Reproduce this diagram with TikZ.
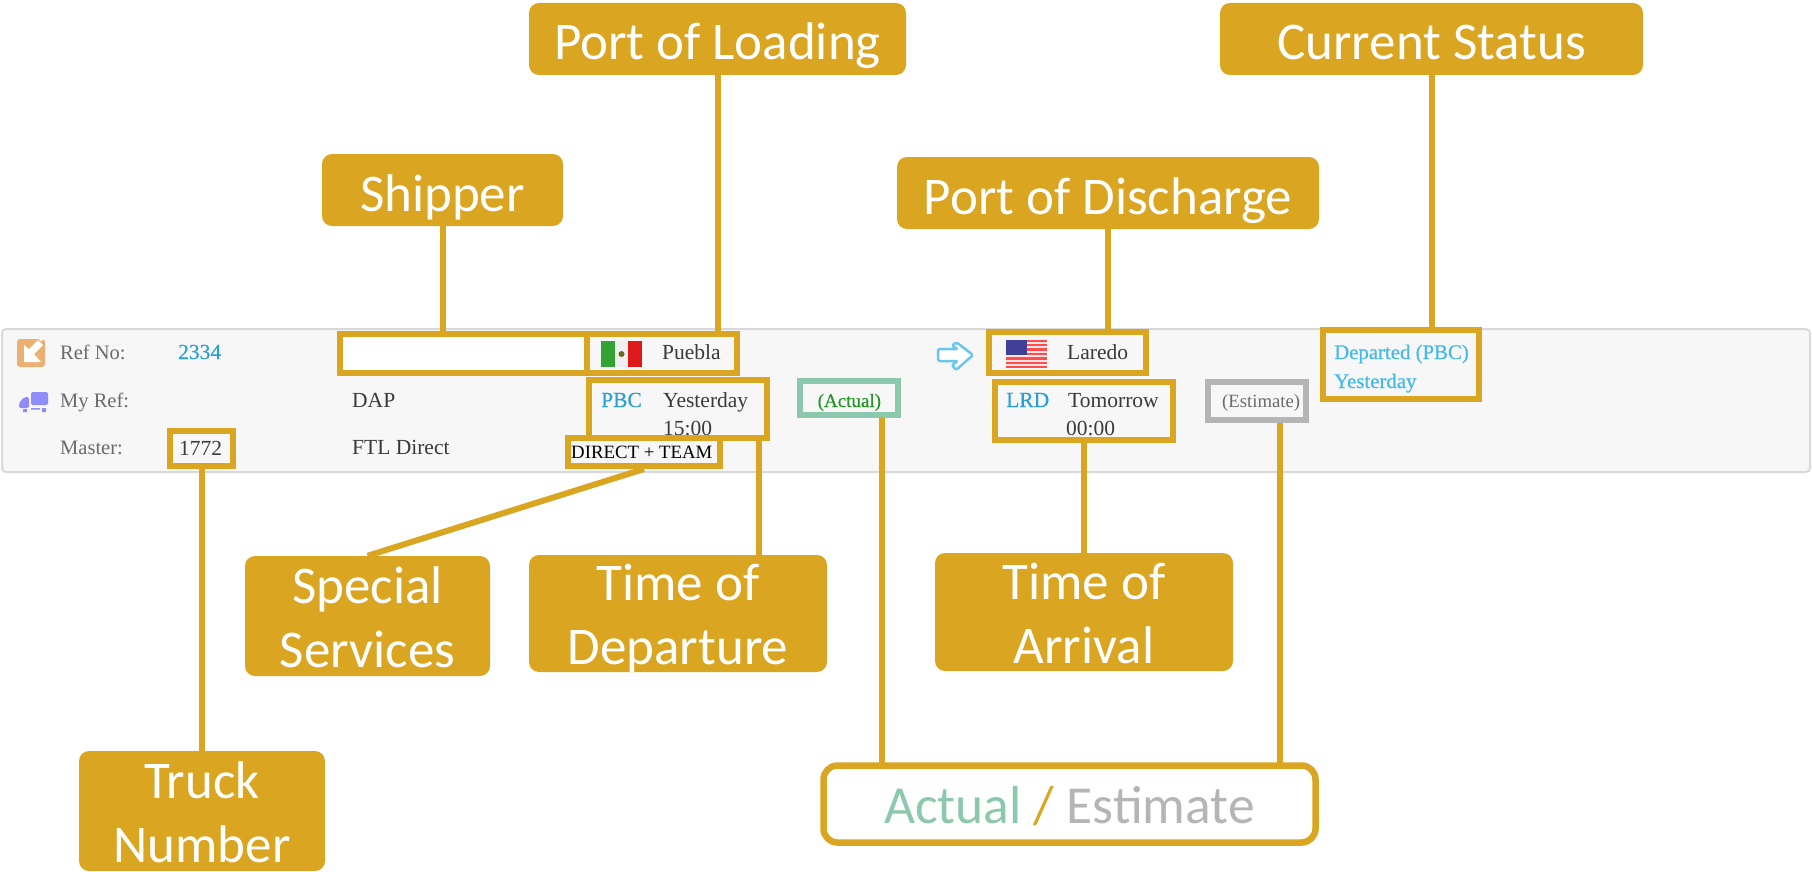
\documentclass[tikz,border=0pt]{standalone}
\usepackage{fontspec}
\setmainfont{Liberation Serif}
\newfontfamily\labelfont{Carlito}
\newfontfamily\heavyfont{Liberation Serif}[FakeBold=0.5]
\definecolor{tagGold}{HTML}{DAA520}
\definecolor{actualGreen}{HTML}{8CC8AE}
\definecolor{estGrey}{HTML}{B5B5B5}
\definecolor{linkBlue}{HTML}{2A9FD6}
\definecolor{statusBlue}{HTML}{45B8EA}
\definecolor{rowGrey}{HTML}{6A6A6A}
\definecolor{rowDark}{HTML}{3A3A3A}
\definecolor{iconOrange}{HTML}{EBB074}
\definecolor{iconPurple}{HTML}{8F8CFA}
\tikzset{
	tag/.style={fill=tagGold, text=white, rounded corners=10pt, align=center, inner sep=0pt, text height=42pt, text depth=0pt, font=\labelfont\fontsize{53}{64}\selectfont},
	tagtwo/.style={tag, text height=102pt},
	markbox/.style={draw=tagGold, line width=6pt, inner sep=0pt},
	leader/.style={draw=tagGold, line width=6pt},
	rowtext/.style={anchor=base west, inner sep=0pt, text=rowDark, font=\fontsize{21.5}{24}\selectfont},
	rowlabel/.style={rowtext, text=rowGrey, font=\fontsize{20.5}{24}\selectfont},
	bluetext/.style={rowtext, text=linkBlue, font=\heavyfont\fontsize{21.5}{24}\selectfont},
	statustext/.style={rowtext, text=statusBlue, font=\heavyfont\fontsize{20.8}{24}\selectfont}
}
\begin{document}
\begin{tikzpicture}[x=1pt, y=-1pt]
	\useasboundingbox (0,0) rectangle (1812,872);
%	    panel
	\draw[draw=black!15, fill=black!3, line width=2pt, rounded corners=4pt] (2,329) rectangle (1810,472);
	\fill[white] (340,334) rectangle (584,373);
%	    icons
	\fill[iconOrange, rounded corners=3pt] (17,339) rectangle (45,367);
	\fill[white] (45,338) -- (38,338) -- (41,341) -- cycle;
	\fill[white] (43,345) -- (38,340) -- (29,349) -- (24,345) -- (24,362) -- (41,362) -- (34,354) -- cycle;
	\fill[iconPurple, rounded corners=2pt] (31,392) rectangle (48,405);
	\fill[iconPurple, rounded corners=2pt] (19,408) -- (19,403) -- (24,397) -- (29,397) -- (29,408) -- cycle;
	\fill[iconPurple] (23,409) rectangle (27,412) (31,408) rectangle (40,409.5) (42,408) rectangle (46,412);
	\fill[green!55!black!80!white] (601,341) rectangle (615,367);
	\fill[black!6] (615,341) rectangle (628,367);
	\fill[red!85!black!90!white] (628,341) rectangle (642,367);
	\fill[olive!70!black] (621.5,354) circle (3pt);
	\draw[statusBlue!80!white, fill=white, line width=2.5pt, line join=round, rounded corners=2pt] (956,342) -- (973,355) -- (956,370) -- (952,365) -- (958,361) -- (938,361) -- (938,349) -- (958,349) -- (952,346) -- cycle;
	\fill[red!70!white] (1006,340) rectangle (1047,368);
	\foreach \i in {0,1,2,3,4,5} {
		\fill[white!90!red] (1006,342+\i*4.4) rectangle (1047,344+\i*4.4);
	}
	\fill[blue!45!black!75!white] (1006,340) rectangle (1027,355);
%	    row text
	\node[rowlabel] (refno) at (60,359) {Ref No:};
	\node[bluetext] (refval) at (178,359) {2334};
	\node[rowlabel] (myref) at (60,407) {My Ref:};
	\node[rowlabel] (master) at (60,454) {Master:};
	\node[rowtext] (masterval) at (179,455) {1772};
	\node[rowtext] (dap) at (352,407) {DAP};
	\node[rowtext] (ftl) at (352,454) {FTL Direct};
	\node[rowtext] (puebla) at (662,359) {Puebla};
	\node[bluetext] (pbc) at (601,407) {PBC};
	\node[rowtext] (depday) at (663,407) {Yesterday};
	\node[rowtext] (deptime) at (663,435) {15:00};
	\node[rowtext, font=\fontsize{18.8}{22}\selectfont, text=black] (direct) at (571,458) {DIRECT + TEAM};
	\node[rowtext, font=\heavyfont\fontsize{19}{22}\selectfont, text=green!50!black!85!white] (actualtxt) at (817.5,407) {(Actual)};
	\node[rowtext] (laredo) at (1067,359) {Laredo};
	\node[bluetext] (lrd) at (1006,407) {LRD};
	\node[rowtext] (arrday) at (1068,407) {Tomorrow};
	\node[rowtext] (arrtime) at (1066,435) {00:00};
	\node[rowtext, font=\fontsize{18.7}{22}\selectfont, text=rowGrey] (esttxt) at (1222,407) {(Estimate)};
	\node[statustext] (departed) at (1334,359) {Departed (PBC)};
	\node[statustext] (statusday) at (1334,388) {Yesterday};
%	    highlight boxes
	\node[markbox, minimum width=247pt, minimum height=39pt] (shipbox) at (463.5,353.5) {};
	\node[markbox, minimum width=150pt, minimum height=39pt] (pueblabox) at (662,353.5) {};
	\node[markbox, minimum width=178pt, minimum height=58pt] (pbcbox) at (678,409) {};
	\node[markbox, minimum width=152pt, minimum height=28pt] (directbox) at (644,452) {};
	\node[markbox, minimum width=63pt, minimum height=35pt] (masterbox) at (201.5,448.5) {};
	\node[markbox, minimum width=157pt, minimum height=41pt] (laredobox) at (1067.5,352.5) {};
	\node[markbox, minimum width=178pt, minimum height=58pt] (lrdbox) at (1084,411) {};
	\node[markbox, draw=actualGreen, minimum width=98pt, minimum height=34pt] (actualbox) at (849,398) {};
	\node[markbox, draw=estGrey, minimum width=98pt, minimum height=38pt] (estbox) at (1257,401) {};
	\node[markbox, minimum width=156pt, minimum height=69pt] (departbox) at (1401,364.5) {};
%	    labels
	\node[tag, minimum width=377pt, minimum height=72pt] (loading) at (717.5,39) {Port of Loading};
	\node[tag, minimum width=423pt, minimum height=72pt] (status) at (1431.5,39) {Current Status};
	\node[tag, minimum width=241pt, minimum height=72pt] (shipper) at (442.5,190) {Shipper};
	\node[tag, minimum width=422pt, minimum height=72pt] (discharge) at (1108,193) {Port of Discharge};
	\node[tagtwo, minimum width=245pt, minimum height=120pt] (special) at (367.5,616) {Special\\Services};
	\node[tagtwo, minimum width=298pt, minimum height=117pt] (departure) at (678,613.5) {Time of\\Departure};
	\node[tagtwo, minimum width=298pt, minimum height=118pt] (arrival) at (1084,612) {Time of\\Arrival};
	\node[tagtwo, minimum width=246pt, minimum height=120pt] (truck) at (202,811) {Truck\\Number};
	\node[draw=tagGold, line width=6.5pt, rounded corners=14pt, minimum width=492pt, minimum height=77pt, inner sep=0pt, text height=38pt, text depth=0pt, font=\labelfont\fontsize{53.5}{60}\selectfont] (actualest) at (1069.5,804) {\textcolor{actualGreen}{Actual} \textcolor{tagGold}{/} \textcolor{estGrey}{Estimate}};
	\coordinate (departfoot) at (759,556);
	\coordinate (actualfoot) at (882,766);
	\coordinate (estfoot) at (1280,766);
%	    connectors
	\draw[leader] (loading.south) -- (loading.south |- pueblabox.north);
	\draw[leader] (status.south) -- (status.south |- departbox.north);
	\draw[leader] (shipper.south) -- (shipper.south |- shipbox.north);
	\draw[leader] (discharge.south) -- (discharge.south |- laredobox.north);
	\draw[leader] (special.north) -- (directbox.south);
	\draw[leader] (departfoot) -- (departfoot |- pbcbox.south);
	\draw[leader] (arrival.north) -- (arrival.north |- lrdbox.south);
	\draw[leader] (truck.north) -- (truck.north |- masterbox.south);
	\draw[leader] (actualfoot) -- (actualfoot |- actualbox.south);
	\draw[leader] (estfoot) -- (estfoot |- estbox.south);
\end{tikzpicture}
\end{document}
